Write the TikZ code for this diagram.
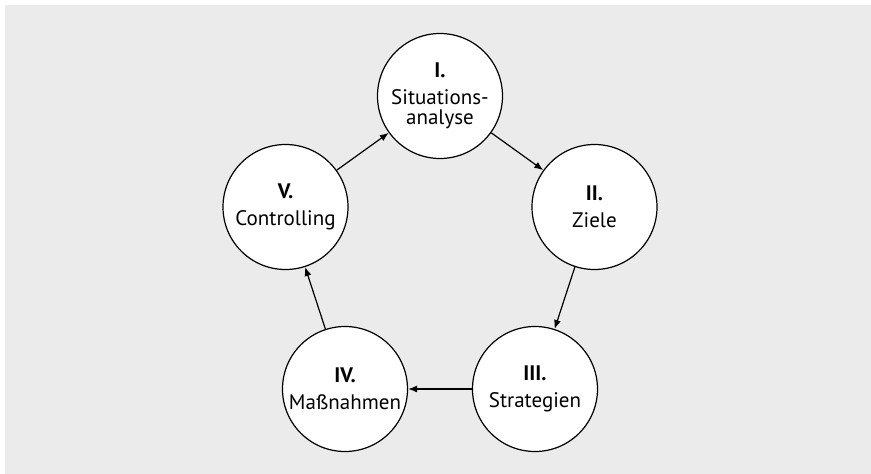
\documentclass[tikz,border=0pt]{standalone}
\usepackage{fontspec}
\setmainfont{PT Sans}
\usetikzlibrary{arrows.meta}
\definecolor{bg}{RGB}{235,235,235}
\tikzset{
  stage/.style={circle, draw=black, line width=1.2pt, fill=white, minimum size=125pt, inner sep=0pt, align=center, font=\fontsize{21}{20}\selectfont},
  flow/.style={line width=1.2pt, -{Latex[length=9pt,width=7pt]}}
}
\begin{document}
\begin{tikzpicture}[x=1pt,y=-1pt]
\useasboundingbox (0,0) rectangle (871,474);
\fill[bg] (5,5) rectangle (871,474);
\node[stage] (s1) at (440,96) {\textbf{I.}\\[7pt]Situations-\\analyse};
\node[stage] (s2) at (594.5,207) {\textbf{II.}\\[7pt]Ziele};
\node[stage] (s3) at (535,389) {\textbf{III.}\\[7pt]Strategien};
\node[stage] (s4) at (345,389) {\textbf{IV.}\\[7pt]Maßnahmen};
\node[stage] (s5) at (285.5,207) {\textbf{V.}\\[7pt]Controlling};
\draw[flow] (s1) -- (s2);
\draw[flow] (s2) -- (s3);
\draw[flow] (s3) -- (s4);
\draw[flow] (s4) -- (s5);
\draw[flow] (s5) -- (s1);
\end{tikzpicture}
\end{document}
